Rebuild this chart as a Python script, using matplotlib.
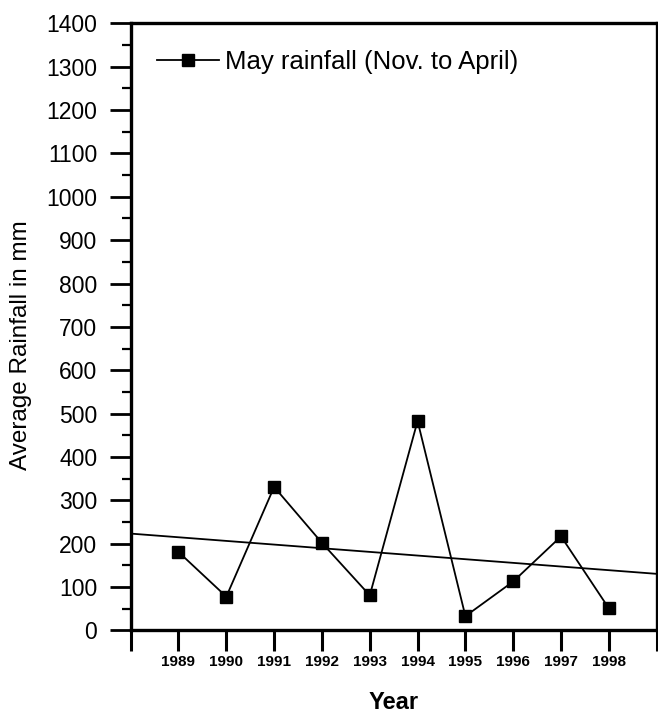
import matplotlib
matplotlib.use("Agg")
import matplotlib.pyplot as plt
from matplotlib.ticker import MultipleLocator
import numpy as np

plt.rcParams["font.family"] = ["Liberation Sans", "DejaVu Sans"]

# May rainfall (Nov. to April), mm
years = [1989, 1990, 1991, 1992, 1993, 1994, 1995, 1996, 1997, 1998]
rainfall = [181, 78, 331, 202, 81, 483, 33, 113, 217, 51]
tick_years = list(range(1988, 2000))
tick_labels = [str(y) if 1989 <= y <= 1998 else "" for y in tick_years]

fig = plt.figure(figsize=(6.58, 7.15), dpi=100)
ax = fig.add_axes([0.1986, 0.1182, 0.7994, 0.8492])

ax.plot(years, rainfall, color="black", lw=1.3, marker="s", markersize=8,
        label="May rainfall (Nov. to April)", zorder=3)

# linear trend over the full x range
slope, icpt = np.polyfit(years, rainfall, 1)
xs = np.array([1988, 1999])
ax.plot(xs, slope * xs + icpt, color="black", lw=1.3, zorder=2)

ax.set_xlim(1988, 1999)
ax.set_ylim(0, 1400)

ax.yaxis.set_major_locator(MultipleLocator(100))
ax.yaxis.set_minor_locator(MultipleLocator(50))
ax.tick_params(axis="y", which="major", direction="out", length=15, width=2,
               pad=9, labelsize=16.5)
ax.tick_params(axis="y", which="minor", direction="out", length=6.5, width=1.6)

ax.set_xticks(tick_years)
ax.set_xticklabels(tick_labels, fontsize=11, fontweight="bold")
ax.tick_params(axis="x", which="major", direction="out", length=15, width=2.2,
               pad=3)

for s in ax.spines.values():
    s.set_linewidth(2.4)

ax.set_ylabel("Average Rainfall in mm", fontsize=17.5)
ax.yaxis.set_label_coords(-0.1876, 0.47)
ax.set_xlabel("Year", fontsize=17, fontweight="bold")
ax.xaxis.set_label_coords(0.5, -0.1)

ax.legend(loc="center left", bbox_to_anchor=(0.05, 0.9363), frameon=False,
          fontsize=18.5, handlelength=2.4, handletextpad=0.25, numpoints=1,
          borderpad=0, borderaxespad=0)

fig.savefig("out.png", dpi=100, facecolor="white")
